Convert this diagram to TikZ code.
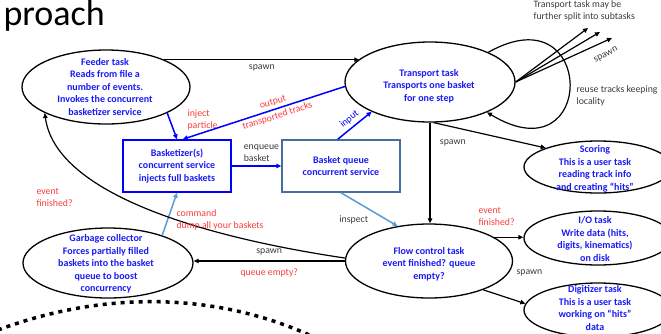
\documentclass[tikz,border=0pt]{standalone}
\usepackage{fontspec}
\setmainfont{Carlito}
\usetikzlibrary{shapes.geometric,arrows.meta}
\definecolor{taskblue}{RGB}{25,25,245}
\definecolor{askred}{RGB}{250,60,60}
\definecolor{queueblue}{RGB}{65,113,156}
\definecolor{skyblue}{RGB}{91,155,213}
\definecolor{notegray}{RGB}{60,60,60}
\begin{document}
\begin{tikzpicture}[x=1pt,y=-1pt,>={Triangle[length=5pt,width=4.5pt]},
	task/.style={ellipse, draw, line width=1.3pt, inner sep=0pt},
	tasktext/.style={align=center, text=taskblue, font=\fontsize{10}{12.5}\selectfont\bfseries},
	service/.style={draw, line width=1.5pt, align=center, inner sep=0pt, minimum height=52pt, text=taskblue, font=\fontsize{10}{12.5}\selectfont\bfseries},
	link/.style={->, line width=1.2pt},
	bluelink/.style={->, line width=1.5pt, draw=blue},
	skylink/.style={->, line width=1.5pt, draw=skyblue},
	note/.style={text=notegray, font=\fontsize{9.8}{12}\selectfont, align=left},
	ask/.style={text=askred, font=\fontsize{9.8}{12}\selectfont, align=left}]
	\useasboundingbox (0,0) rectangle (661,333);
	\node (title) at (0,25)	[anchor=base west, font=\fontsize{36}{36}\selectfont]	{proach};

	\node (feeder) at (106,87)	[task, minimum width=168pt, minimum height=74pt]	{};
	\node (transport) at (430,82)	[task, minimum width=170pt, minimum height=80pt]	{};
	\node (flow) at (429,261)	[task, minimum width=167pt, minimum height=74pt]	{};
	\node (garbage) at (108,263)	[task, minimum width=170pt, minimum height=70pt]	{};
	\node (scoring) at (598,167)	[task, minimum width=148pt, minimum height=52pt]	{};
	\node (io) at (598,238)	[task, minimum width=148pt, minimum height=54pt]	{};
	\node (digitizer) at (598,310)	[task, minimum width=148pt, minimum height=54pt]	{};

	\node (feedertext) at (105,87)	[tasktext]	{Feeder task\\Reads from file a\\number of events.\\Invokes the concurrent\\basketizer service};
	\node (transporttext) at (429,86)	[tasktext]	{Transport task\\Transports one basket\\for one step};
	\node (flowtext) at (429,264)	[tasktext]	{Flow control task\\event finished? queue\\empty?};
	\node (garbagetext) at (106,264)	[tasktext]	{Garbage collector\\Forces partially filled\\baskets into the basket\\queue to boost\\concurrency};
	\node (scoringtext) at (595,169)	[tasktext]	{Scoring\\This is a user task\\reading track info\\and creating “hits”};
	\node (iotext) at (595,239)	[tasktext]	{I/O task\\Write data (hits,\\digits, kinematics)\\on disk};
	\node (digitizertext) at (595,308)	[tasktext]	{Digitizer task\\This is a user task\\working on “hits”\\data};

	\node (basketizer) at (177,166)	[service, draw=blue, minimum width=108pt]	{Basketizer(s)\\concurrent service\\injects full baskets};
	\node (queue) at (341,166)	[service, draw=queueblue, minimum width=118pt]	{Basket queue\\concurrent service};

	\coordinate (sub1) at (588,28);
	\coordinate (sub2) at (600,32);
	\coordinate (sub3) at (612,38);

	\draw[link] (feeder.25) -- node[note, below=1pt] {spawn} (feeder.25 -| transport.162);
	\draw[bluelink] (feeder.-23) -- (basketizer.north);
	\draw[bluelink] (transport.183) -- node[ask, sloped, above=-1pt, pos=0.43] {output} node[ask, sloped, below=-1pt, pos=0.43] {transported tracks} (basketizer.78);
	\draw[bluelink] (basketizer.east |- queue.west) -- node[note, anchor=south west, pos=0, xshift=8pt] {enqueue\\basket} (queue.west);
	\draw[bluelink] (queue.97) -- node[sloped, above=0pt, text=blue, font=\fontsize{9.8}{12}\selectfont] {input} (transport.207);
	\draw[skylink] (queue.south) -- node[note, left=14pt, pos=0.8] {inspect} (flow.132);
	\draw[skylink] (garbage.27) -- (basketizer.south);
	\draw[link] (transport.27) .. controls (597,-9) and (597,179) .. (transport.-28);
	\draw[link] (transport.east) -- (sub1);
	\draw[link] (transport.east) -- (sub2);
	\draw[link] (transport.east) -- (sub3);
	\draw[link] (transport.south) -- node[note, right=6pt, pos=0.2] {spawn} (transport.south |- flow.north);
	\draw[link] (transport.-85) -- (scoring.160);
	\draw[link] (flow.20) -- (flow.20 -| io.west);
	\draw[link] (flow.-28) -- (digitizer.175);
	\draw[link] (flow.west) -- node[note, above=2pt] {spawn} node[ask, below=4pt] {queue empty?} (flow.west -| garbage.east);
	\draw[link] (flow.178) .. controls (190,235) and (55,190) .. (feeder.203);

	\node (injectlabel) at (184,120)	[ask, anchor=west]	{inject\\particle};
	\node (commandlabel) at (173,220)	[ask, anchor=west]	{command\\dump all your baskets};
	\node (finishedleft) at (33,197)	[ask, anchor=west]	{event\\finished?};
	\node (finishedright) at (475,216)	[ask, anchor=west]	{event\\finished?};
	\node (digispawn) at (513,273)	[note, anchor=west]	{spawn};
	\node (fanspawn) at (606,55)	[note, rotate=28]	{spawn};
	\node (splitnote) at (530,11)	[note, anchor=west]	{Transport task may be\\further split into subtasks};
	\node (reusenote) at (573,96)	[note, anchor=west]	{reuse tracks keeping\\locality};

	\coordinate (arcL) at (-2,330);
	\coordinate (arcR) at (330,345);
	\draw[line width=3.5pt, dash pattern=on 4pt off 5pt] (arcL) .. controls (105,290) and (225,290) .. (arcR);
\end{tikzpicture}
\end{document}
